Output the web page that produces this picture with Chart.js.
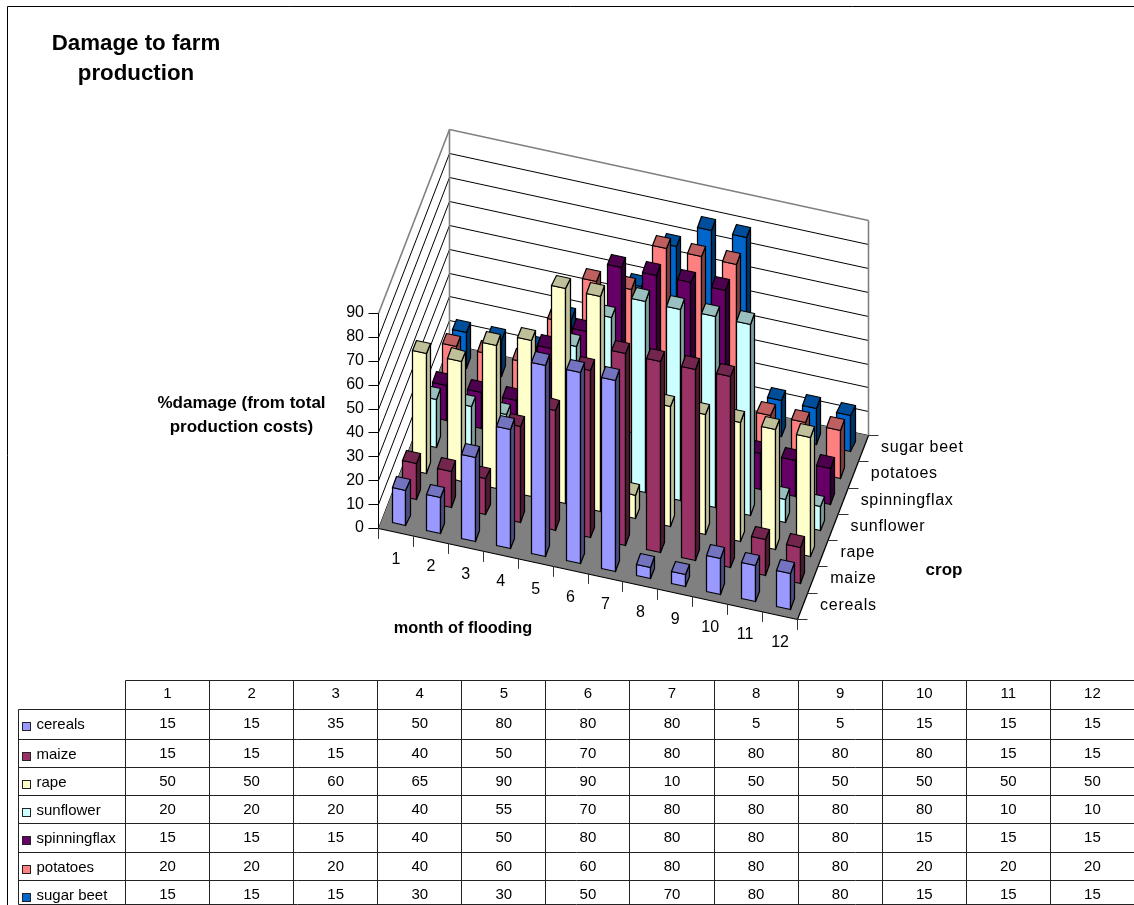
<!DOCTYPE html>
<html>
<head>
<meta charset="utf-8">
<title>Damage to farm production</title>
<script src="https://cdn.jsdelivr.net/npm/chart.js@4"></script>
<style>
  html, body { margin: 0; padding: 0; background: #fff; overflow: hidden; }
  canvas { display: block; }
</style>
</head>
<body>
<canvas id="chart" width="1134" height="905"></canvas>
<script>
// Percentage damage per crop for a flood in each month of the year.
const months = [1, 2, 3, 4, 5, 6, 7, 8, 9, 10, 11, 12];
const crops = ['cereals', 'maize', 'rape', 'sunflower', 'spinningflax', 'potatoes', 'sugar beet'];
const valueTicks = [0, 10, 20, 30, 40, 50, 60, 70, 80, 90];

const cereals      = [15, 15, 35, 50, 80, 80, 80, 5, 5, 15, 15, 15];
const maize        = [15, 15, 15, 40, 50, 70, 80, 80, 80, 80, 15, 15];
const rape         = [50, 50, 60, 65, 90, 90, 10, 50, 50, 50, 50, 50];
const sunflower    = [20, 20, 20, 40, 55, 70, 80, 80, 80, 80, 10, 10];
const spinningflax = [15, 15, 15, 40, 50, 80, 80, 80, 80, 15, 15, 15];
const potatoes     = [20, 20, 20, 40, 60, 60, 80, 80, 80, 20, 20, 20];
const sugarBeet    = [15, 15, 15, 30, 30, 50, 70, 80, 80, 15, 15, 15];
const cropValues = [cereals, maize, rape, sunflower, spinningflax, potatoes, sugarBeet];

// Front, top and right-hand face colours for each crop.
const frontColors = ['#9999FF', '#993366', '#FFFFCC', '#CCFFFF', '#660066', '#FF8080', '#0066CC'];
const topColors   = ['#7373BF', '#73264D', '#BFBF99', '#99BFBF', '#4D004D', '#BF6060', '#004D99'];
const sideColors  = ['#4D4D80', '#4D1A33', '#BFBF99', '#809F9F', '#330033', '#804040', '#003366'];

const FONT = '"Liberation Sans", Arial, sans-serif';

// Oblique projection of (month position, crop position, value) onto the page.
const ORIGIN = { x: 378, y: 528 };
const MONTH_STEP = { x: 34.92, y: 7.58 };
const CROP_STEP = { x: 10.14, y: -26.25 };
const VALUE_STEP = 2.39;

function project(u, v, z) {
  return {
    x: ORIGIN.x + MONTH_STEP.x * u + CROP_STEP.x * v,
    y: ORIGIN.y + MONTH_STEP.y * u + CROP_STEP.y * v - VALUE_STEP * z
  };
}
// Vertices land on pixel centres so vertical edges stay sharp.
function snapped(u, v, z) {
  const p = project(u, v, z);
  return { x: Math.round(p.x) + 0.5, y: Math.round(p.y) + 0.5 };
}

const paintOrder = [];

function polygon(label, corners, fillColor, edgeColor, edgeWidth) {
  paintOrder.push({
    label,
    data: corners.concat([corners[0]]),
    showLine: true,
    fill: 'shape',
    backgroundColor: fillColor,
    borderColor: edgeColor,
    borderWidth: edgeWidth,
    borderCapStyle: 'round',
    borderJoinStyle: 'round',
    pointRadius: 0,
    tension: 0
  });
}
function polyline(label, corners, color, width) {
  paintOrder.push({
    label,
    data: corners,
    showLine: true,
    fill: false,
    borderColor: color,
    borderWidth: width || 1,
    pointRadius: 0,
    tension: 0
  });
}

const uMax = months.length, vMax = crops.length;
const zMax = valueTicks[valueTicks.length - 1];
const AXIS = '#808080', INK = '#000000';
const WALL_EDGE = 1.6, BAR_EDGE = 1.25;

// Side wall, back wall and floor.
polygon('side wall', [snapped(0, 0, 0), snapped(0, vMax, 0), snapped(0, vMax, zMax), snapped(0, 0, zMax)], '#FFFFFF', 'transparent', 0);
polygon('back wall', [snapped(0, vMax, 0), snapped(uMax, vMax, 0), snapped(uMax, vMax, zMax), snapped(0, vMax, zMax)], '#FFFFFF', 'transparent', 0);
valueTicks.forEach(tick => {
  const atTop = tick === zMax;
  polyline('side grid ' + tick, [snapped(0, 0, tick), snapped(0, vMax, tick)], atTop ? AXIS : INK, atTop ? WALL_EDGE : 1);
  polyline('back grid ' + tick, [snapped(0, vMax, tick), snapped(uMax, vMax, tick)], atTop ? AXIS : INK, atTop ? WALL_EDGE : 1);
});
polyline('back corner', [snapped(0, vMax, 0), snapped(0, vMax, zMax)], AXIS, WALL_EDGE);
polyline('back end', [snapped(uMax, vMax, 0), snapped(uMax, vMax, zMax)], AXIS, WALL_EDGE);
polygon('floor', [snapped(0, 0, 0), snapped(uMax, 0, 0), snapped(uMax, vMax, 0), snapped(0, vMax, 0)], '#808080', 'transparent', 0);

// Bars, furthest crop row first, so nearer rows cover the ones behind them.
const BAR_START = 0.3, BAR_END = 0.7;
for (let c = crops.length - 1; c >= 0; c--) {
  months.forEach((month, m) => {
    const value = cropValues[c][m];
    const u0 = m + BAR_START, u1 = m + BAR_END, v0 = c + BAR_START, v1 = c + BAR_END;
    const name = crops[c] + ' ' + month;
    polygon(name + ' front',
      [snapped(u0, v0, 0), snapped(u1, v0, 0), snapped(u1, v0, value), snapped(u0, v0, value)],
      frontColors[c], INK, BAR_EDGE);
    polygon(name + ' side',
      [snapped(u1, v0, 0), snapped(u1, v1, 0), snapped(u1, v1, value), snapped(u1, v0, value)],
      sideColors[c], INK, BAR_EDGE);
    polygon(name + ' top',
      [snapped(u0, v0, value), snapped(u1, v0, value), snapped(u1, v1, value), snapped(u0, v1, value)],
      topColors[c], INK, BAR_EDGE);
  });
}

// Axis lines and tick marks.
polyline('value axis', [snapped(0, 0, 0), snapped(0, 0, zMax)], INK);
polyline('month axis', [snapped(0, 0, 0), snapped(uMax, 0, 0)], INK, 1.25);
polyline('crop axis', [snapped(uMax, 0, 0), snapped(uMax, vMax, 0)], INK, 1.25);
const TICK = 10;
const tickZ = TICK / VALUE_STEP;
valueTicks.forEach(tick => {
  polyline('value tick ' + tick, [snapped(0, 0, tick), { x: snapped(0, 0, tick).x - TICK, y: snapped(0, 0, tick).y }], INK);
});
for (let u = 0; u <= uMax; u++) {
  polyline('month tick ' + u, [snapped(u, 0, 0), snapped(u, 0, -tickZ)], '#333333');
}
for (let v = 0; v <= vMax; v++) {
  polyline('crop tick ' + v, [snapped(uMax, v, 0), { x: snapped(uMax, v, 0).x + TICK, y: snapped(uMax, v, 0).y }], '#333333');
}

// Chart.js paints the first dataset last, so the list is handed over reversed.
const datasets = paintOrder.slice().reverse();

// Data table geometry.
const TABLE_LEFT = 18.5, TABLE_HEAD = 125.5, COL_WIDTH = 84.08;
const ROW_LINES = [680.5, 709.5, 739.5, 767.5, 795.5, 823.5, 852.5, 880.5, 904.5];
const TEXT_COLOR = '#000000';

function text(ctx, str, x, y, font, align, spacing) {
  ctx.font = font;
  ctx.textAlign = align || 'center';
  ctx.textBaseline = 'middle';
  ctx.letterSpacing = spacing || '0px';
  ctx.fillStyle = TEXT_COLOR;
  ctx.fillText(str, x, y);
  ctx.letterSpacing = '0px';
}
function segment(ctx, x0, y0, x1, y1) {
  ctx.beginPath();
  ctx.moveTo(x0, y0);
  ctx.lineTo(x1, y1);
  ctx.stroke();
}

const labelsPlugin = {
  id: 'pageText',
  afterDatasetsDraw(chart) {
    const ctx = chart.ctx;
    ctx.save();

    // Frame around the whole chart.
    ctx.strokeStyle = '#000000';
    ctx.lineWidth = 1;
    segment(ctx, 7.5, 905, 7.5, 6.5);
    segment(ctx, 7.5, 6.5, 1134, 6.5);

    // Title and axis titles.
    text(ctx, 'Damage to farm', 136, 44, 'bold 22.3px ' + FONT);
    text(ctx, 'production', 136, 74, 'bold 22.3px ' + FONT);
    text(ctx, '%damage (from total', 241.5, 403, 'bold 17px ' + FONT);
    text(ctx, 'production costs)', 241.5, 427, 'bold 17px ' + FONT);
    text(ctx, 'month of flooding', 463, 629, 'bold 16.3px ' + FONT);
    text(ctx, 'crop', 944, 570, 'bold 17px ' + FONT);

    // Axis tick labels.
    valueTicks.forEach(tick => {
      const p = project(0, 0, tick);
      text(ctx, String(tick), 364, p.y, '16px ' + FONT, 'right');
    });
    months.forEach((month, m) => {
      const p = project(m + 0.5, 0, 0);
      text(ctx, String(month), p.x + 0.5, p.y + 27.5, '16px ' + FONT);
    });
    crops.forEach((crop, c) => {
      const p = project(uMax, c + 0.5, 0);
      text(ctx, crop, p.x + 18, p.y - 0.5, '16px ' + FONT, 'left', '0.7px');
    });

    // Data table grid.
    ctx.strokeStyle = '#222222';
    const tableRight = TABLE_HEAD + COL_WIDTH * months.length;
    segment(ctx, TABLE_HEAD, ROW_LINES[0], tableRight, ROW_LINES[0]);
    ROW_LINES.slice(1).forEach(y => segment(ctx, TABLE_LEFT, y, tableRight, y));
    segment(ctx, TABLE_LEFT, ROW_LINES[1], TABLE_LEFT, ROW_LINES[8]);
    for (let k = 0; k <= months.length; k++) {
      const x = Math.round(TABLE_HEAD + COL_WIDTH * k - 0.5) + 0.5;
      segment(ctx, x, ROW_LINES[0], x, ROW_LINES[8]);
    }

    // Data table header and cells.
    months.forEach((month, m) => {
      const x = TABLE_HEAD + COL_WIDTH * (m + 0.5);
      text(ctx, String(month), x, 694, '15px ' + FONT);
    });
    crops.forEach((crop, c) => {
      const top = ROW_LINES[c + 1];
      ctx.fillStyle = frontColors[c];
      ctx.strokeStyle = '#222222';
      ctx.fillRect(22.5, Math.round(top) + 12.5, 8, 8);
      ctx.strokeRect(22.5, Math.round(top) + 12.5, 8, 8);
      text(ctx, crop, 36.5, top + 15.6, '15px ' + FONT, 'left');
      months.forEach((month, m) => {
        const x = TABLE_HEAD + COL_WIDTH * (m + 0.5);
        text(ctx, String(cropValues[c][m]), x, top + 14.4, '15px ' + FONT);
      });
    });
    ctx.restore();
  }
};

new Chart(document.getElementById('chart'), {
  type: 'scatter',
  data: { datasets },
  plugins: [labelsPlugin],
  options: {
    responsive: false,
    animation: false,
    events: [],
    layout: { padding: 0 },
    plugins: { legend: { display: false }, title: { display: false }, tooltip: { enabled: false } },
    scales: {
      x: { type: 'linear', min: 0, max: 1134, display: false },
      y: { type: 'linear', min: 0, max: 905, reverse: true, display: false }
    }
  }
});
</script>
</body>
</html>
